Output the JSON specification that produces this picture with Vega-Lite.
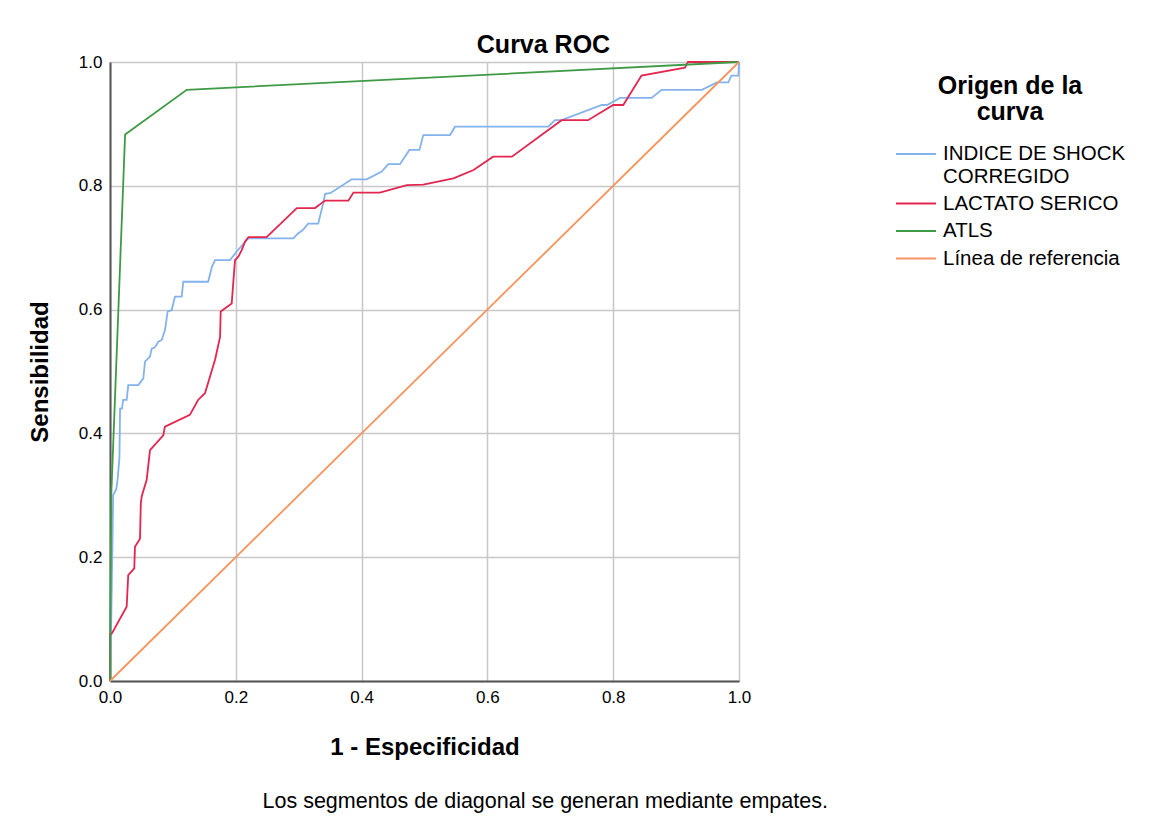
{
  "$schema": "https://vega.github.io/schema/vega-lite/v6.json",
  "background": "white",
  "padding": {"left": 28, "top": 33, "right": 5, "bottom": 5},
  "title": {
    "text": "Los segmentos de diagonal se generan mediante empates.",
    "orient": "bottom",
    "anchor": "middle",
    "font": "Liberation Sans",
    "fontSize": 21.5,
    "fontWeight": "normal",
    "color": "#000000",
    "offset": 32,
    "dx": -38
  },
  "vconcat": [
    {
      "width": 629,
      "height": 619,
      "title": {
        "text": "Curva ROC",
        "anchor": "middle",
        "frame": "group",
        "dx": 119,
        "font": "Liberation Sans",
        "fontSize": 25,
        "fontWeight": "bold",
        "color": "#000000",
        "offset": -5
      },
      "data": {
        "values": [
          {"curva": "INDICE DE SHOCK CORREGIDO", "i": 1, "fx": 0, "fy": 0},
          {"curva": "INDICE DE SHOCK CORREGIDO", "i": 2, "fx": 0.002, "fy": 0.10},
          {"curva": "INDICE DE SHOCK CORREGIDO", "i": 3, "fx": 0.004, "fy": 0.23},
          {"curva": "INDICE DE SHOCK CORREGIDO", "i": 4, "fx": 0.005, "fy": 0.30},
          {"curva": "INDICE DE SHOCK CORREGIDO", "i": 5, "fx": 0.010, "fy": 0.31},
          {"curva": "INDICE DE SHOCK CORREGIDO", "i": 6, "fx": 0.012, "fy": 0.325},
          {"curva": "INDICE DE SHOCK CORREGIDO", "i": 7, "fx": 0.015, "fy": 0.36},
          {"curva": "INDICE DE SHOCK CORREGIDO", "i": 8, "fx": 0.016, "fy": 0.44},
          {"curva": "INDICE DE SHOCK CORREGIDO", "i": 9, "fx": 0.019, "fy": 0.44},
          {"curva": "INDICE DE SHOCK CORREGIDO", "i": 10, "fx": 0.021, "fy": 0.454},
          {"curva": "INDICE DE SHOCK CORREGIDO", "i": 11, "fx": 0.0265, "fy": 0.454},
          {"curva": "INDICE DE SHOCK CORREGIDO", "i": 12, "fx": 0.029, "fy": 0.478},
          {"curva": "INDICE DE SHOCK CORREGIDO", "i": 13, "fx": 0.045, "fy": 0.478},
          {"curva": "INDICE DE SHOCK CORREGIDO", "i": 14, "fx": 0.053, "fy": 0.489},
          {"curva": "INDICE DE SHOCK CORREGIDO", "i": 15, "fx": 0.0556, "fy": 0.516},
          {"curva": "INDICE DE SHOCK CORREGIDO", "i": 16, "fx": 0.0636, "fy": 0.524},
          {"curva": "INDICE DE SHOCK CORREGIDO", "i": 17, "fx": 0.0663, "fy": 0.537},
          {"curva": "INDICE DE SHOCK CORREGIDO", "i": 18, "fx": 0.0715, "fy": 0.539},
          {"curva": "INDICE DE SHOCK CORREGIDO", "i": 19, "fx": 0.0768, "fy": 0.548},
          {"curva": "INDICE DE SHOCK CORREGIDO", "i": 20, "fx": 0.0822, "fy": 0.551},
          {"curva": "INDICE DE SHOCK CORREGIDO", "i": 21, "fx": 0.0874, "fy": 0.567},
          {"curva": "INDICE DE SHOCK CORREGIDO", "i": 22, "fx": 0.0917, "fy": 0.597},
          {"curva": "INDICE DE SHOCK CORREGIDO", "i": 23, "fx": 0.098, "fy": 0.599},
          {"curva": "INDICE DE SHOCK CORREGIDO", "i": 24, "fx": 0.1033, "fy": 0.621},
          {"curva": "INDICE DE SHOCK CORREGIDO", "i": 25, "fx": 0.114, "fy": 0.621},
          {"curva": "INDICE DE SHOCK CORREGIDO", "i": 26, "fx": 0.1165, "fy": 0.645},
          {"curva": "INDICE DE SHOCK CORREGIDO", "i": 27, "fx": 0.156, "fy": 0.645},
          {"curva": "INDICE DE SHOCK CORREGIDO", "i": 28, "fx": 0.162, "fy": 0.669},
          {"curva": "INDICE DE SHOCK CORREGIDO", "i": 29, "fx": 0.167, "fy": 0.680},
          {"curva": "INDICE DE SHOCK CORREGIDO", "i": 30, "fx": 0.1908, "fy": 0.680},
          {"curva": "INDICE DE SHOCK CORREGIDO", "i": 31, "fx": 0.204, "fy": 0.697},
          {"curva": "INDICE DE SHOCK CORREGIDO", "i": 32, "fx": 0.2173, "fy": 0.712},
          {"curva": "INDICE DE SHOCK CORREGIDO", "i": 33, "fx": 0.22, "fy": 0.715},
          {"curva": "INDICE DE SHOCK CORREGIDO", "i": 34, "fx": 0.2914, "fy": 0.715},
          {"curva": "INDICE DE SHOCK CORREGIDO", "i": 35, "fx": 0.299, "fy": 0.723},
          {"curva": "INDICE DE SHOCK CORREGIDO", "i": 36, "fx": 0.307, "fy": 0.729},
          {"curva": "INDICE DE SHOCK CORREGIDO", "i": 37, "fx": 0.315, "fy": 0.739},
          {"curva": "INDICE DE SHOCK CORREGIDO", "i": 38, "fx": 0.331, "fy": 0.739},
          {"curva": "INDICE DE SHOCK CORREGIDO", "i": 39, "fx": 0.339, "fy": 0.772},
          {"curva": "INDICE DE SHOCK CORREGIDO", "i": 40, "fx": 0.342, "fy": 0.787},
          {"curva": "INDICE DE SHOCK CORREGIDO", "i": 41, "fx": 0.35, "fy": 0.788},
          {"curva": "INDICE DE SHOCK CORREGIDO", "i": 42, "fx": 0.366, "fy": 0.7985},
          {"curva": "INDICE DE SHOCK CORREGIDO", "i": 43, "fx": 0.384, "fy": 0.8105},
          {"curva": "INDICE DE SHOCK CORREGIDO", "i": 44, "fx": 0.408, "fy": 0.8105},
          {"curva": "INDICE DE SHOCK CORREGIDO", "i": 45, "fx": 0.432, "fy": 0.823},
          {"curva": "INDICE DE SHOCK CORREGIDO", "i": 46, "fx": 0.4425, "fy": 0.835},
          {"curva": "INDICE DE SHOCK CORREGIDO", "i": 47, "fx": 0.461, "fy": 0.835},
          {"curva": "INDICE DE SHOCK CORREGIDO", "i": 48, "fx": 0.476, "fy": 0.858},
          {"curva": "INDICE DE SHOCK CORREGIDO", "i": 49, "fx": 0.492, "fy": 0.858},
          {"curva": "INDICE DE SHOCK CORREGIDO", "i": 50, "fx": 0.498, "fy": 0.882},
          {"curva": "INDICE DE SHOCK CORREGIDO", "i": 51, "fx": 0.5405, "fy": 0.882},
          {"curva": "INDICE DE SHOCK CORREGIDO", "i": 52, "fx": 0.5485, "fy": 0.8955},
          {"curva": "INDICE DE SHOCK CORREGIDO", "i": 53, "fx": 0.697, "fy": 0.8955},
          {"curva": "INDICE DE SHOCK CORREGIDO", "i": 54, "fx": 0.7075, "fy": 0.906},
          {"curva": "INDICE DE SHOCK CORREGIDO", "i": 55, "fx": 0.718, "fy": 0.906},
          {"curva": "INDICE DE SHOCK CORREGIDO", "i": 56, "fx": 0.782, "fy": 0.9305},
          {"curva": "INDICE DE SHOCK CORREGIDO", "i": 57, "fx": 0.79, "fy": 0.9305},
          {"curva": "INDICE DE SHOCK CORREGIDO", "i": 58, "fx": 0.811, "fy": 0.942},
          {"curva": "INDICE DE SHOCK CORREGIDO", "i": 59, "fx": 0.861, "fy": 0.942},
          {"curva": "INDICE DE SHOCK CORREGIDO", "i": 60, "fx": 0.877, "fy": 0.955},
          {"curva": "INDICE DE SHOCK CORREGIDO", "i": 61, "fx": 0.941, "fy": 0.955},
          {"curva": "INDICE DE SHOCK CORREGIDO", "i": 62, "fx": 0.965, "fy": 0.967},
          {"curva": "INDICE DE SHOCK CORREGIDO", "i": 63, "fx": 0.983, "fy": 0.967},
          {"curva": "INDICE DE SHOCK CORREGIDO", "i": 64, "fx": 0.988, "fy": 0.978},
          {"curva": "INDICE DE SHOCK CORREGIDO", "i": 65, "fx": 0.999, "fy": 0.978},
          {"curva": "INDICE DE SHOCK CORREGIDO", "i": 66, "fx": 1, "fy": 1},
          {"curva": "LACTATO SERICO", "i": 1, "fx": 0, "fy": 0},
          {"curva": "LACTATO SERICO", "i": 2, "fx": 0, "fy": 0.075},
          {"curva": "LACTATO SERICO", "i": 3, "fx": 0.003, "fy": 0.077},
          {"curva": "LACTATO SERICO", "i": 4, "fx": 0.0265, "fy": 0.12},
          {"curva": "LACTATO SERICO", "i": 5, "fx": 0.029, "fy": 0.171},
          {"curva": "LACTATO SERICO", "i": 6, "fx": 0.0386, "fy": 0.182},
          {"curva": "LACTATO SERICO", "i": 7, "fx": 0.0397, "fy": 0.217},
          {"curva": "LACTATO SERICO", "i": 8, "fx": 0.0477, "fy": 0.23},
          {"curva": "LACTATO SERICO", "i": 9, "fx": 0.049, "fy": 0.287},
          {"curva": "LACTATO SERICO", "i": 10, "fx": 0.0504, "fy": 0.298},
          {"curva": "LACTATO SERICO", "i": 11, "fx": 0.0583, "fy": 0.325},
          {"curva": "LACTATO SERICO", "i": 12, "fx": 0.0636, "fy": 0.373},
          {"curva": "LACTATO SERICO", "i": 13, "fx": 0.0847, "fy": 0.397},
          {"curva": "LACTATO SERICO", "i": 14, "fx": 0.0874, "fy": 0.411},
          {"curva": "LACTATO SERICO", "i": 15, "fx": 0.127, "fy": 0.43},
          {"curva": "LACTATO SERICO", "i": 16, "fx": 0.140, "fy": 0.454},
          {"curva": "LACTATO SERICO", "i": 17, "fx": 0.151, "fy": 0.465},
          {"curva": "LACTATO SERICO", "i": 18, "fx": 0.167, "fy": 0.519},
          {"curva": "LACTATO SERICO", "i": 19, "fx": 0.175, "fy": 0.556},
          {"curva": "LACTATO SERICO", "i": 20, "fx": 0.176, "fy": 0.597},
          {"curva": "LACTATO SERICO", "i": 21, "fx": 0.1935, "fy": 0.610},
          {"curva": "LACTATO SERICO", "i": 22, "fx": 0.1987, "fy": 0.680},
          {"curva": "LACTATO SERICO", "i": 23, "fx": 0.204, "fy": 0.6855},
          {"curva": "LACTATO SERICO", "i": 24, "fx": 0.2094, "fy": 0.696},
          {"curva": "LACTATO SERICO", "i": 25, "fx": 0.2146, "fy": 0.7097},
          {"curva": "LACTATO SERICO", "i": 26, "fx": 0.22, "fy": 0.717},
          {"curva": "LACTATO SERICO", "i": 27, "fx": 0.249, "fy": 0.717},
          {"curva": "LACTATO SERICO", "i": 28, "fx": 0.297, "fy": 0.764},
          {"curva": "LACTATO SERICO", "i": 29, "fx": 0.326, "fy": 0.764},
          {"curva": "LACTATO SERICO", "i": 30, "fx": 0.339, "fy": 0.774},
          {"curva": "LACTATO SERICO", "i": 31, "fx": 0.342, "fy": 0.776},
          {"curva": "LACTATO SERICO", "i": 32, "fx": 0.379, "fy": 0.776},
          {"curva": "LACTATO SERICO", "i": 33, "fx": 0.387, "fy": 0.789},
          {"curva": "LACTATO SERICO", "i": 34, "fx": 0.429, "fy": 0.789},
          {"curva": "LACTATO SERICO", "i": 35, "fx": 0.472, "fy": 0.801},
          {"curva": "LACTATO SERICO", "i": 36, "fx": 0.498, "fy": 0.802},
          {"curva": "LACTATO SERICO", "i": 37, "fx": 0.546, "fy": 0.812},
          {"curva": "LACTATO SERICO", "i": 38, "fx": 0.578, "fy": 0.8255},
          {"curva": "LACTATO SERICO", "i": 39, "fx": 0.609, "fy": 0.847},
          {"curva": "LACTATO SERICO", "i": 40, "fx": 0.639, "fy": 0.847},
          {"curva": "LACTATO SERICO", "i": 41, "fx": 0.718, "fy": 0.906},
          {"curva": "LACTATO SERICO", "i": 42, "fx": 0.760, "fy": 0.906},
          {"curva": "LACTATO SERICO", "i": 43, "fx": 0.800, "fy": 0.9305},
          {"curva": "LACTATO SERICO", "i": 44, "fx": 0.816, "fy": 0.9305},
          {"curva": "LACTATO SERICO", "i": 45, "fx": 0.845, "fy": 0.978},
          {"curva": "LACTATO SERICO", "i": 46, "fx": 0.914, "fy": 0.991},
          {"curva": "LACTATO SERICO", "i": 47, "fx": 0.919, "fy": 1.0},
          {"curva": "LACTATO SERICO", "i": 48, "fx": 1, "fy": 1},
          {"curva": "ATLS", "i": 1, "fx": 0, "fy": 0},
          {"curva": "ATLS", "i": 2, "fx": 0.002, "fy": 0.30},
          {"curva": "ATLS", "i": 3, "fx": 0.024, "fy": 0.883},
          {"curva": "ATLS", "i": 4, "fx": 0.122, "fy": 0.955},
          {"curva": "ATLS", "i": 5, "fx": 1, "fy": 1},
          {"curva": "Línea de referencia", "i": 1, "fx": 0, "fy": 0},
          {"curva": "Línea de referencia", "i": 2, "fx": 1, "fy": 1}
        ]
      },
      "mark": {"type": "line", "strokeWidth": 1.8},
      "encoding": {
        "x": {
          "field": "fx",
          "type": "quantitative",
          "scale": {"domain": [0, 1], "nice": false},
          "axis": {"values": [0, 0.2, 0.4, 0.6, 0.8, 1], "format": ".1f", "title": "1 - Especificidad"}
        },
        "y": {
          "field": "fy",
          "type": "quantitative",
          "scale": {"domain": [0, 1], "nice": false},
          "axis": {"values": [0, 0.2, 0.4, 0.6, 0.8, 1], "format": ".1f", "title": "Sensibilidad"}
        },
        "order": {"field": "i", "type": "quantitative"},
        "color": {
          "field": "curva",
          "type": "nominal",
          "scale": {
            "domain": ["INDICE DE SHOCK CORREGIDO", "LACTATO SERICO", "ATLS", "Línea de referencia"],
            "range": ["#84b2ec", "#e3264f", "#3f9a45", "#f7945c"]
          },
          "legend": {
            "title": ["Origen de la", "curva"],
            "labelExpr": "datum.label == 'INDICE DE SHOCK CORREGIDO' ? ['INDICE DE SHOCK', 'CORREGIDO'] : datum.label"
          }
        }
      }
    }
  ],
  "config": {
    "view": {"stroke": null},
    "axis": {
      "domainColor": "#555555",
      "domainWidth": 2,
      "gridColor": "#c8c8c8",
      "gridWidth": 1.5,
      "ticks": false,
      "labelFont": "Liberation Sans",
      "labelFontSize": 17,
      "labelColor": "#000000",
      "labelPadding": 8,
      "titleFont": "Liberation Sans",
      "titleFontSize": 24,
      "titleFontWeight": "bold",
      "titleColor": "#000000"
    },
    "axisX": {"titlePadding": 30, "labelFlush": false},
    "axisY": {"titlePadding": 26, "labelFlush": false},
    "legend": {
      "orient": "right",
      "offset": 132,
      "padding": 12,
      "titleFont": "Liberation Sans",
      "titleFontSize": 25,
      "titleFontWeight": "bold",
      "titleColor": "#000000",
      "titleAlign": "center",
      "titleAnchor": "middle",
      "titleLineHeight": 26,
      "titlePadding": 18,
      "labelFont": "Liberation Sans",
      "labelFontSize": 20.5,
      "labelColor": "#000000",
      "labelOffset": 26,
      "labelLimit": 0,
      "symbolType": "M-1,0H3",
      "symbolSize": 400,
      "symbolStrokeWidth": 2,
      "symbolFillColor": "transparent",
      "rowPadding": 5.5
    }
  }
}
